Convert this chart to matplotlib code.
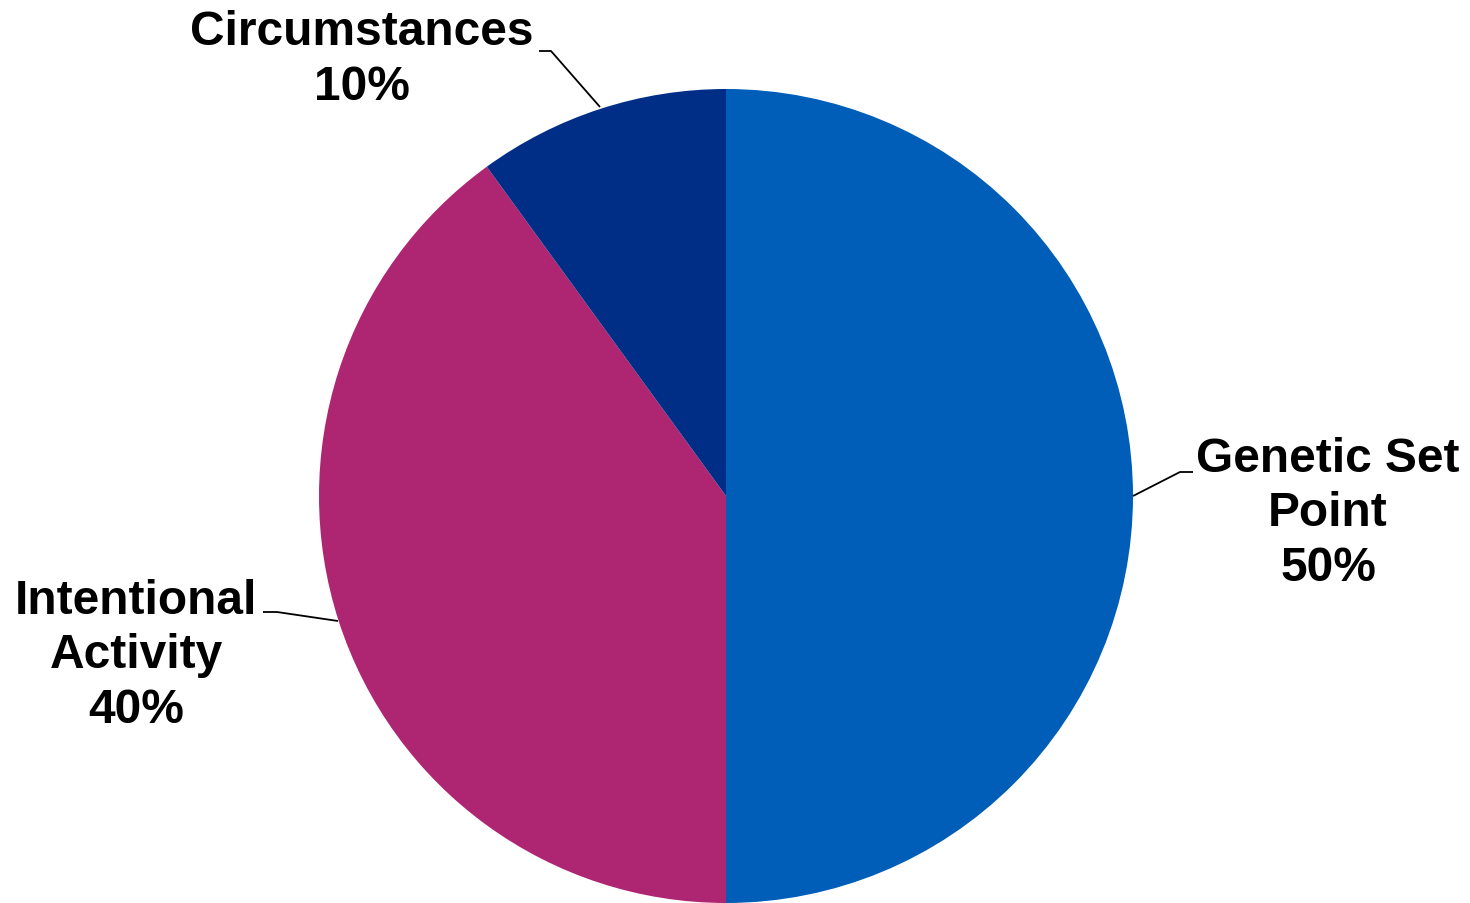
import matplotlib
matplotlib.use("Agg")
import matplotlib.pyplot as plt

labels = ["Genetic Set\nPoint", "Intentional\nActivity", "Circumstances"]
values = [50, 40, 10]
colors = ["#005EB8", "#AE2572", "#002E87"]

W, H = 1470, 904
fig = plt.figure(figsize=(W / 100, H / 100), dpi=100)
ax = fig.add_axes([0, 0, 1, 1])

cx, cy, r = 726, H - 497, 407
ax.pie(values, colors=colors, startangle=90, counterclock=False,
       center=(cx, cy), radius=r, frame=True,
       wedgeprops=dict(linewidth=0))
ax.set_xlim(0, W)
ax.set_ylim(0, H)
ax.set_aspect("equal")
ax.axis("off")

font = dict(family="Liberation Sans", weight="bold", fontsize=34.5,
            ha="center", va="center", linespacing=1.27)

# label positions (pixel coords, y from top) and leader lines
label_pos = [(1328, 514), (136, 656), (362, 60)]
leaders = [
    [(1133, 497), (1180, 473), (1193, 473)],
    [(338, 622), (277, 613), (263, 613)],
    [(600, 108), (551, 52), (539, 52)],
]
for lab, val, (tx, ty), pts in zip(labels, values, label_pos, leaders):
    ax.text(tx, H - ty, f"{lab}\n{val}%", **font)
    xs = [p[0] for p in pts]
    ys = [H - p[1] for p in pts]
    ax.plot(xs, ys, color="black", lw=1.3, solid_capstyle="butt")

fig.savefig("out.png", dpi=100, facecolor="white")
